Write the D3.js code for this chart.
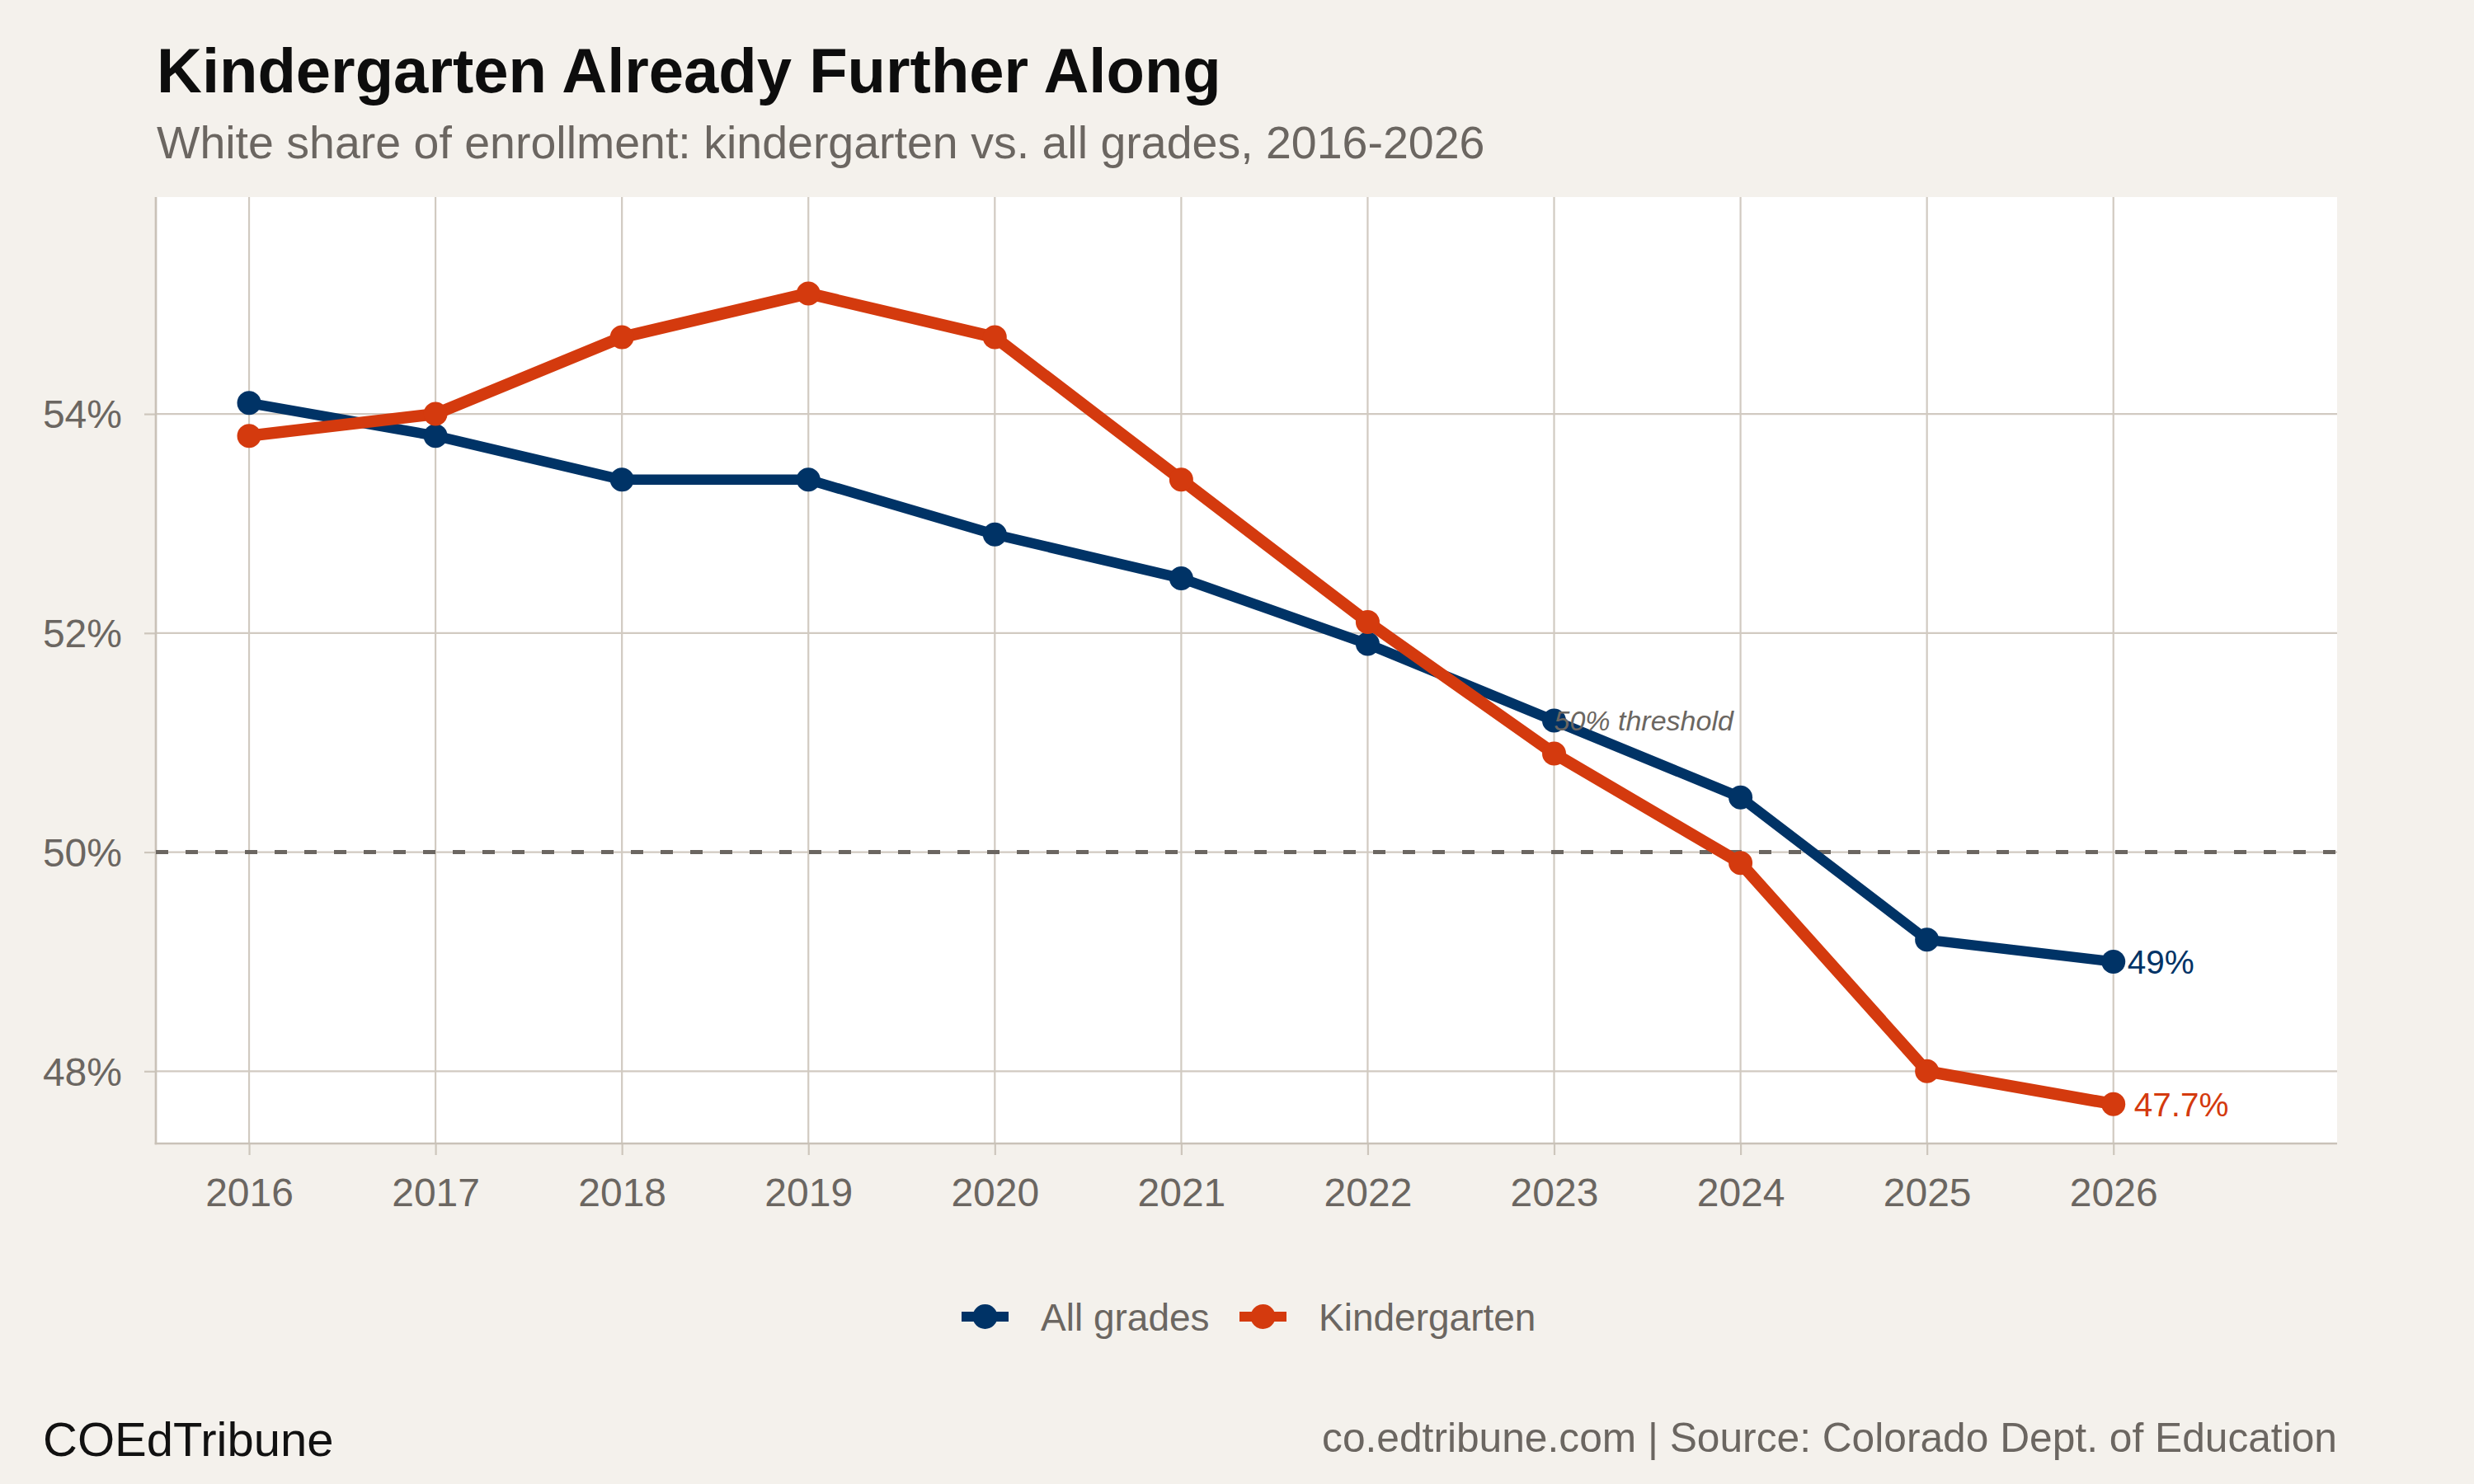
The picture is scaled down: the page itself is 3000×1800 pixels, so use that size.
<!DOCTYPE html>
<html>
<head>
<meta charset="utf-8">
<script src="https://cdn.jsdelivr.net/npm/d3@7"></script>
<style>
  html, body { margin: 0; padding: 0; background: #f4f1ec; }
  svg { display: block; font-family: "Liberation Sans", Arial, Helvetica, sans-serif; }
</style>
</head>
<body>
<section></section>
<script>

// data

const years = [2016, 2017, 2018, 2019, 2020, 2021, 2022, 2023, 2024, 2025, 2026];
const allGrades = [54.1, 53.8, 53.4, 53.4, 52.9, 52.5, 51.9, 51.2, 50.5, 49.2, 49.0];
const kindergarten = [53.8, 54.0, 54.7, 55.1, 54.7, 53.4, 52.1, 50.9, 49.9, 48.0, 47.7];
const seriesNames = ['All grades', 'Kindergarten'];
const endLabels = ['49%', '47.7%'];
const yTicks = [48, 50, 52, 54];
const threshold = 50;
const thresholdNote = { year: 2023, value: 51.2, text: '50% threshold' };

const title = 'Kindergarten Already Further Along';
const subtitle = 'White share of enrollment: kindergarten vs. all grades, 2016-2026';
const brand = 'COEdTribune';
const source = 'co.edtribune.com | Source: Colorado Dept. of Education';


const w = 3000;
const h = 1800;
const m = { top: 239, right: 166, bottom: 413, left: 189 };

const navy = '#003366';
const red = '#d43a0e';
const grey = '#6b6661';
const colors = [navy, red];
const widths = [12.5, 14.5];


const svg = d3.select('section').append('svg').attr('width', w).attr('height', h);

svg.append('rect').attr('width', w).attr('height', h).attr('fill', '#f4f1ec');


// heading

svg.append('text').attr('x', 190).attr('y', 112).text(title)
    .attr('font-size', 76).attr('font-weight', 'bold').attr('fill', '#0d0d0d');

svg.append('text').attr('x', 190).attr('y', 192).text(subtitle)
    .attr('font-size', 55.5).attr('fill', grey);


// scales

const xScale = d3.scaleLinear().domain([2015.5, 2027.2]).range([m.left, w - m.right]);
const yScale = d3.scaleLinear().domain([47.34, 55.98]).range([h - m.bottom, m.top]);


// panel + grid

svg.append('rect')
    .attr('x', m.left).attr('y', m.top)
    .attr('width', w - m.left - m.right).attr('height', h - m.top - m.bottom)
    .attr('fill', '#ffffff');

const grid = svg.append('g').attr('stroke', '#d1cac1').attr('stroke-width', 2.2);

grid.selectAll('.vgrid').data(years).enter().append('line').attr('class', 'vgrid')
    .attr('x1', d => xScale(d)).attr('x2', d => xScale(d))
    .attr('y1', m.top).attr('y2', h - m.bottom);

grid.selectAll('.hgrid').data(yTicks).enter().append('line').attr('class', 'hgrid')
    .attr('x1', m.left).attr('x2', w - m.right)
    .attr('y1', d => yScale(d)).attr('y2', d => yScale(d));


// axes

const xAxis = d3.axisBottom(xScale).tickValues(years).tickFormat(d3.format('d'))
    .tickSize(14).tickPadding(28);

const yAxis = d3.axisLeft(yScale).tickValues(yTicks).tickFormat(d => d + '%')
    .tickSize(14).tickPadding(27);

const gx = svg.append('g').attr('transform', `translate(0,${h - m.bottom})`).call(xAxis);
const gy = svg.append('g').attr('transform', `translate(${m.left},0)`).call(yAxis);

[gx, gy].forEach(g => {
    g.select('.domain').remove();
    g.selectAll('.tick line').attr('stroke', '#cdc6bc').attr('stroke-width', 2.2);
    g.selectAll('.tick text').attr('fill', grey).attr('font-size', 48)
        .attr('font-family', '"Liberation Sans", Arial, Helvetica, sans-serif');
});

gy.selectAll('.tick text').attr('dy', '0.35em');

// axis lines

svg.append('line').attr('x1', m.left).attr('x2', m.left)
    .attr('y1', m.top).attr('y2', h - m.bottom + 1.3)
    .attr('stroke', '#c9c2b8').attr('stroke-width', 2.7);

svg.append('line').attr('x1', m.left - 1.3).attr('x2', w - m.right)
    .attr('y1', h - m.bottom).attr('y2', h - m.bottom)
    .attr('stroke', '#c9c2b8').attr('stroke-width', 2.7);


// threshold line

svg.append('line')
    .attr('x1', m.left).attr('x2', w - m.right)
    .attr('y1', yScale(threshold)).attr('y2', yScale(threshold))
    .attr('stroke', grey).attr('stroke-width', 5).attr('stroke-dasharray', '15,21');


// series

const series = [allGrades, kindergarten].map((vals, i) => ({
    name: seriesNames[i],
    color: colors[i],
    width: widths[i],
    label: endLabels[i],
    values: vals.map((v, j) => ({ year: years[j], value: v }))
}));

const line = d3.line().x(d => xScale(d.year)).y(d => yScale(d.value));

svg.append('g').selectAll('path').data(series).enter().append('path')
    .attr('d', d => line(d.values))
    .attr('fill', 'none')
    .attr('stroke', d => d.color)
    .attr('stroke-width', d => d.width)
    .attr('stroke-linejoin', 'round');

series.forEach(s => {
    svg.append('g').selectAll('circle').data(s.values).enter().append('circle')
        .attr('cx', d => xScale(d.year))
        .attr('cy', d => yScale(d.value))
        .attr('r', 14.5)
        .attr('fill', s.color);
});


// end labels

const nudges = [17, 25];

svg.append('g').selectAll('text').data(series).enter().append('text')
    .attr('x', (d, i) => xScale(d.values[d.values.length - 1].year) + nudges[i])
    .attr('y', d => yScale(d.values[d.values.length - 1].value))
    .attr('dy', '0.36em')
    .attr('font-size', 40.5)
    .attr('fill', d => d.color)
    .text(d => d.label);


// threshold note

svg.append('text')
    .attr('x', xScale(thresholdNote.year))
    .attr('y', yScale(thresholdNote.value))
    .attr('dy', '0.35em')
    .attr('font-size', 34)
    .attr('font-style', 'italic')
    .attr('fill', grey)
    .text(thresholdNote.text);


// legend

const legendX = [1166, 1503];
const legendY = 1597;

const legend = svg.append('g').attr('class', 'legend');

series.forEach((s, i) => {
    const g = legend.append('g').attr('transform', `translate(${legendX[i]},${legendY})`);
    g.append('line').attr('x1', 0).attr('x2', 57).attr('y1', 0).attr('y2', 0)
        .attr('stroke', s.color).attr('stroke-width', 12);
    g.append('circle').attr('cx', 28.5).attr('cy', 0).attr('r', 15).attr('fill', s.color);
    g.append('text').attr('x', 96).attr('y', 0).attr('dy', '0.36em')
        .attr('font-size', 46).attr('fill', grey).text(s.name);
});


// footer

svg.append('text').attr('x', 52).attr('y', 1766).text(brand)
    .attr('font-size', 58).attr('fill', '#111111');

svg.append('text').attr('x', w - m.right).attr('y', 1761).text(source)
    .attr('text-anchor', 'end').attr('font-size', 49.7).attr('fill', grey);

</script>
</body>
</html>
